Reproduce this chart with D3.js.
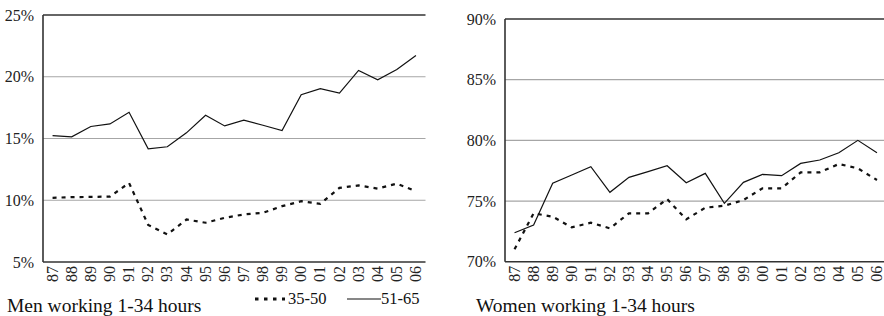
<!DOCTYPE html>
<head>
    <meta charset="utf-8">
    <script src="https://d3js.org/d3.v7.min.js"></script>
    <style>
        body {
            margin: 0;
            background: white;
            font-family: "Liberation Serif", "DejaVu Serif", serif;
        }

        svg text {
            font-family: "Liberation Serif", "DejaVu Serif", serif;
        }

        .grid-line {
            stroke: #a6a6a6;
            stroke-width: 1.2px;
        }

        .frame-line {
            stroke: #333;
            stroke-width: 1.6px;
        }

        .solid-line {
            fill: none;
            stroke: #111;
            stroke-width: 1.2px;
        }

        .dash-line {
            fill: none;
            stroke: #111;
            stroke-width: 2.2px;
            stroke-dasharray: 4,5;
        }

        .caption {
            font-size: 19.5px;
            fill: #111;
        }

        .legend-text {
            font-size: 16.5px;
            fill: #111;
        }
    </style>
</head>

<body>
<script>
    var years = ["87","88","89","90","91","92","93","94","95","96",
                 "97","98","99","00","01","02","03","04","05","06"];

    // men working 1-34 hours, share in %
    var men3550 = [10.2,10.25,10.27,10.3,11.4,8.0,7.23,8.44,8.18,8.58,
                   8.85,8.98,9.52,9.92,9.71,11.0,11.2,10.94,11.35,10.73];
    var men5165 = [15.24,15.13,15.97,16.18,17.12,14.17,14.33,15.46,16.88,16.02,
                   16.48,16.07,15.65,18.55,19.03,18.68,20.51,19.76,20.59,21.72];

    // women working 1-34 hours, share in %
    var women3550 = [71.02,73.99,73.71,72.83,73.21,72.75,73.99,73.99,75.16,73.49,
                     74.45,74.61,75.08,76.05,76.05,77.36,77.36,78.05,77.69,76.73];
    var women5165 = [72.39,73.02,76.46,77.15,77.83,75.72,76.95,77.42,77.91,76.51,
                     77.28,74.81,76.54,77.2,77.09,78.1,78.38,78.98,80.0,78.98];

    var menTicks = [5, 10, 15, 20, 25];
    var womenTicks = [70, 75, 80, 85, 90];

    var serif = '"Liberation Serif", "DejaVu Serif", serif';

    var svg = d3.select("body").append("svg")
        .attr("width", 884)
        .attr("height", 316);

    function drawPanel(opt) {
        var g = svg.append("g")
            .attr("transform", "translate(" + opt.left + "," + opt.top + ")");

        var x = d3.scaleBand()
            .domain(years)
            .range([0, opt.width]);

        var y = d3.scaleLinear()
            .domain([opt.ticks[0], opt.ticks[opt.ticks.length - 1]])
            .range([opt.height, 0]);

        // grid lines (top one is dark like the frame)
        g.selectAll(".grid")
            .data(opt.ticks.slice(1))
            .enter().append("line")
            .attr("class", function(d, i) {
                return i == opt.ticks.length - 2 ? "frame-line" : "grid-line";
            })
            .attr("x1", 0)
            .attr("x2", opt.width)
            .attr("y1", function(d) { return y(d); })
            .attr("y2", function(d) { return y(d); });

        var yAxis = d3.axisLeft(y)
            .tickValues(opt.ticks)
            .tickSize(0)
            .tickPadding(9)
            .tickFormat(function(d) { return d + "%"; });

        var ya = g.append("g").call(yAxis);
        ya.select(".domain").remove();
        ya.selectAll("text")
            .style("font-family", serif)
            .style("font-size", "16px")
            .attr("fill", "#222");

        var xAxis = d3.axisBottom(x).tickSize(0);
        var xa = g.append("g")
            .attr("transform", "translate(0," + opt.height + ")")
            .call(xAxis);
        xa.select(".domain").remove();
        xa.selectAll("text")
            .style("font-family", serif)
            .style("font-size", "16px")
            .attr("fill", "#222")
            .attr("transform", "rotate(-90)")
            .attr("x", -4)
            .attr("y", 0)
            .attr("dy", "0.32em")
            .style("text-anchor", "end");

        // left and bottom frame
        g.append("line").attr("class", "frame-line")
            .attr("x1", 0).attr("x2", 0)
            .attr("y1", 0).attr("y2", opt.height);
        g.append("line").attr("class", "frame-line")
            .attr("x1", 0).attr("x2", opt.width)
            .attr("y1", opt.height).attr("y2", opt.height);

        var line = d3.line()
            .x(function(d, i) { return x(years[i]) + x.bandwidth() / 2; })
            .y(function(d) { return y(d); });

        g.append("path")
            .attr("class", "solid-line")
            .attr("d", line(opt.solid));

        g.append("path")
            .attr("class", "dash-line")
            .attr("d", line(opt.dashed));

        svg.append("text")
            .attr("class", "caption")
            .attr("x", opt.captionX)
            .attr("y", 312)
            .text(opt.caption);
    }

    drawPanel({left: 43, top: 15, width: 382.5, height: 247,
               ticks: menTicks, solid: men5165, dashed: men3550,
               caption: "Men working 1-34 hours", captionX: 7});

    drawPanel({left: 505, top: 19, width: 381.5, height: 242.7,
               ticks: womenTicks, solid: women5165, dashed: women3550,
               caption: "Women working 1-34 hours", captionX: 476});

    // legend
    var legend = svg.append("g").attr("transform", "translate(0,299)");

    legend.append("line")
        .attr("x1", 255).attr("x2", 285)
        .attr("y1", 0).attr("y2", 0)
        .attr("stroke", "#111")
        .attr("stroke-width", 3)
        .attr("stroke-dasharray", "3.5,5.5");
    legend.append("text")
        .attr("class", "legend-text")
        .attr("x", 288).attr("y", 5)
        .text("35-50");

    legend.append("line")
        .attr("x1", 347).attr("x2", 381)
        .attr("y1", 0).attr("y2", 0)
        .attr("stroke", "#111")
        .attr("stroke-width", 1.2);
    legend.append("text")
        .attr("class", "legend-text")
        .attr("x", 381).attr("y", 5)
        .text("51-65");
</script>
</body>
</html>
